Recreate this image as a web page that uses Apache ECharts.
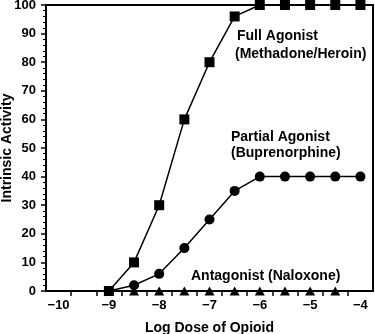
<!DOCTYPE html>
<html>
<head>
<meta charset="utf-8">
<script src="https://cdn.jsdelivr.net/npm/echarts@6/dist/echarts.min.js"></script>
<style>
html,body{margin:0;padding:0;background:#fff;}
#chart{width:375px;height:334px;}
</style>
</head>
<body>
<div id="chart"></div>
<script>
// Data
const doses = [-9, -8.5, -8, -7.5, -7, -6.5, -6, -5.5, -5, -4.5, -4];
const fullAgonist = [0, 10, 30, 60, 80, 96, 100, 100, 100, 100, 100];
const partialAgonist = [0, 2, 6, 15, 25, 35, 40, 40, 40, 40, 40];
const antagonistDoses = [-8.5, -8, -7.5, -7, -6.5, -6, -5.5, -5, -4.5];
const antagonist = [0, 0, 0, 0, 0, 0, 0, 0, 0];
const xLabelValues = [-10, -9, -8, -7, -6, -5, -4];
const xTickValues = [-9.75, -9.25, -8.75, -8.25, -7.75, -7.25, -6.75, -6.25, -5.75, -5.25, -4.75, -4.25];

const FONT = "'Liberation Sans', Arial, Helvetica, sans-serif";
const pair = (xs, ys) => xs.map((x, i) => [x, ys[i]]);
const minus = v => String(v).replace('-', '\u2212');

const chart = echarts.init(document.getElementById('chart'), null, {renderer: 'canvas'});
chart.setOption({
  animation: false,
  backgroundColor: '#fff',
  grid: {left: 46, right: 2, top: 5, bottom: 43, show: true, borderColor: '#000', borderWidth: 2,
         containLabel: false, outerBoundsMode: 'none'},
  xAxis: {
    type: 'value', min: -10.25, max: -3.75,
    name: 'Log Dose of Opioid', nameLocation: 'middle', nameGap: 30, nameMoveOverlap: false,
    nameTextStyle: {fontFamily: FONT, fontWeight: 'bold', fontSize: 14, color: '#000'},
    axisLine: {show: true, onZero: false, lineStyle: {color: '#000', width: 2}},
    axisTick: {show: true, customValues: xTickValues, length: 5, lineStyle: {color: '#000', width: 1.5}},
    axisLabel: {show: true, customValues: xLabelValues, margin: 8, formatter: minus,
      fontFamily: FONT, fontWeight: 'bold', fontSize: 13, color: '#000'},
    splitLine: {show: false}
  },
  yAxis: {
    type: 'value', min: 0, max: 100, interval: 10,
    name: 'Intrinsic Activity', nameLocation: 'middle', nameGap: 32, nameMoveOverlap: false,
    nameTextStyle: {fontFamily: FONT, fontWeight: 'bold', fontSize: 14, color: '#000'},
    axisLine: {show: true, lineStyle: {color: '#000', width: 2}},
    axisTick: {show: true, length: 5, lineStyle: {color: '#000', width: 1.5}},
    minorTick: {show: true, splitNumber: 5, length: 3, lineStyle: {color: '#000', width: 1}},
    axisLabel: {margin: 10, fontFamily: FONT, fontWeight: 'bold', fontSize: 13, color: '#000'},
    splitLine: {show: false},
    minorSplitLine: {show: false}
  },
  series: [
    {type: 'scatter', data: pair(antagonistDoses, antagonist), symbol: 'triangle', symbolSize: [10, 9],
     itemStyle: {color: '#000', opacity: 1}, z: 2},
    {type: 'line', data: pair(doses, partialAgonist), symbol: 'circle', symbolSize: 10, showAllSymbol: true,
     lineStyle: {color: '#000', width: 1.5}, itemStyle: {color: '#000', borderWidth: 0, opacity: 1}, z: 3},
    {type: 'line', data: pair(doses, fullAgonist), symbol: 'rect', symbolSize: 10, showAllSymbol: true,
     lineStyle: {color: '#000', width: 1.5}, itemStyle: {color: '#000', borderWidth: 0, opacity: 1}, z: 4}
  ],
  graphic: [
    {type: 'text', left: 237, top: 29, style: {text: 'Full Agonist', font: 'bold 14px ' + FONT, fill: '#000'}},
    {type: 'text', left: 235, top: 47.5, style: {text: '(Methadone/Heroin)', font: 'bold 14px ' + FONT, fill: '#000'}},
    {type: 'text', left: 231, top: 130, style: {text: 'Partial Agonist', font: 'bold 14px ' + FONT, fill: '#000'}},
    {type: 'text', left: 231, top: 146.5, style: {text: '(Buprenorphine)', font: 'bold 14px ' + FONT, fill: '#000'}},
    {type: 'text', left: 191, top: 269.5, style: {text: 'Antagonist (Naloxone)', font: 'bold 14px ' + FONT, fill: '#000'}}
  ]
});
</script>
</body>
</html>
